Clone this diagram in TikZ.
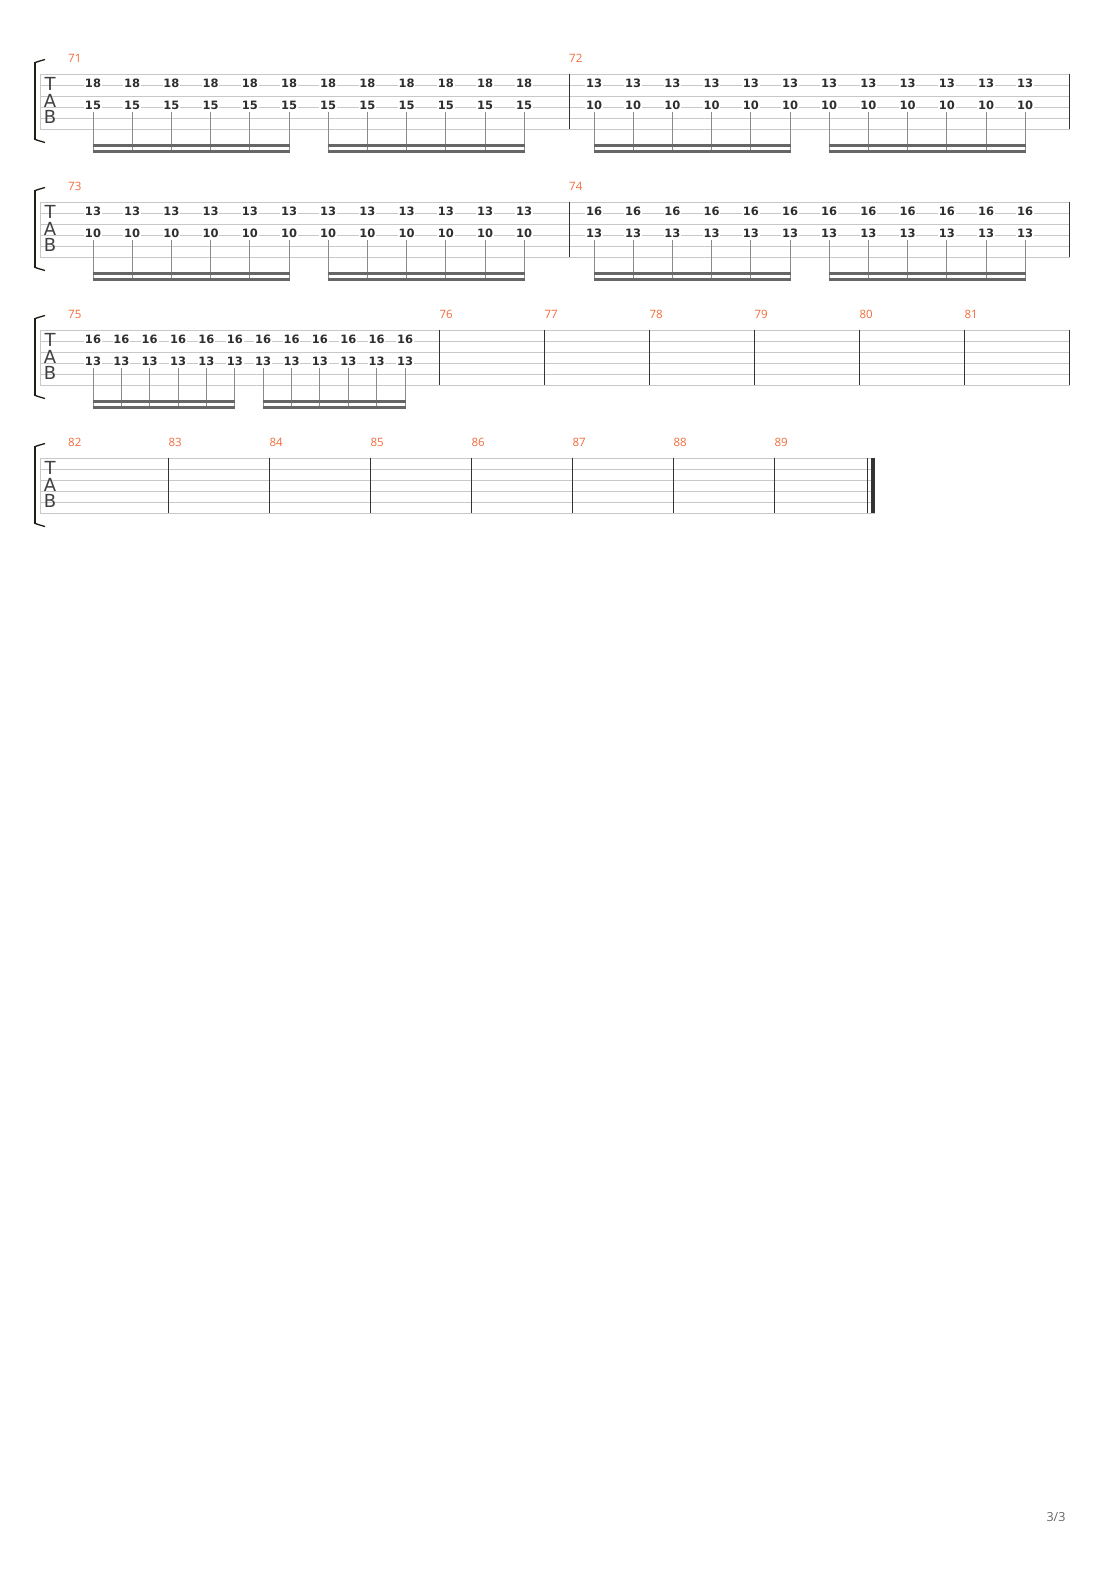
\documentclass[tikz,border=0pt]{standalone}
\usepackage{fontspec}
\setmainfont{Open Sans}
\newfontfamily\fretfont{DejaVu Sans}
\newfontfamily\letterfont{DejaVu Sans}
\definecolor{mnumc}{HTML}{F26B3A}
\definecolor{staffc}{HTML}{C8C8C8}
\definecolor{barc}{HTML}{333333}
\definecolor{fretc}{HTML}{2E2E2E}
\definecolor{stemc}{HTML}{8A8A8A}
\definecolor{beamc}{HTML}{666666}
\definecolor{brackc}{HTML}{1E1E14}
\tikzset{
  staffline/.style={draw=staffc, line width=0.9pt},
  barline/.style={draw=barc, line width=1.2pt},
  stemline/.style={draw=stemc, line width=1pt},
  beamline/.style={draw=beamc, line width=2.4pt, line cap=butt},
  fret/.style={fill=white, text=fretc, inner xsep=0.8pt, inner ysep=0pt, font=\fretfont\bfseries\fontsize{11.5}{11.5}\selectfont},
  mnum/.style={anchor=west, text=mnumc, inner sep=0pt, font=\fontsize{11.5}{11.5}\selectfont},
  tabletter/.style={text=black!75, inner sep=0pt, font=\letterfont\fontsize{18}{18}\selectfont},
}
% #1 y offset, #2 right end of staff, #3 name
\newcommand\tabsystem[3]{%
  \foreach \i in {0,...,5} {\draw[staffline] (40,#1+74.3+11*\i) -- (#2,#1+74.3+11*\i);}
  \draw[staffline] (40.3,#1+74.3) -- (40.3,#1+129.3);
  \draw[draw=brackc, line width=2.8pt] (35,#1+62) -- (35,#1+140);
  \draw[draw=brackc, line width=1.3pt] (34.5,#1+62.8) .. controls (38,#1+61.5) .. (45,#1+59.5);
  \draw[draw=brackc, line width=1.3pt] (34.5,#1+139.2) .. controls (38,#1+140.5) .. (45,#1+142.5);
  \node[tabletter] (T#3) at (50,#1+84) {T};
  \node[tabletter] (A#3) at (50,#1+100.5) {A};
  \node[tabletter] (B#3) at (50,#1+117) {B};
}
% #1 y offset, #2 first x, #3 spacing, #4 upper fret, #5 lower fret, #6 name
\newcommand\notegroup[6]{%
  \foreach \k in {0,...,5} {
    \pgfmathsetmacro\xx{#2+#3*\k}
    \draw[stemline] (\xx,#1+112) -- (\xx,#1+152.7);
    \node[fret] (u#6\k) at (\xx,#1+83.4) {#4};
    \node[fret] (l#6\k) at (\xx,#1+105.4) {#5};
  }
  \pgfmathsetmacro\xe{#2+#3*5}
  \draw[beamline] (#2-0.5,#1+145.5) -- (\xe+0.5,#1+145.5);
  \draw[beamline] (#2-0.5,#1+151.5) -- (\xe+0.5,#1+151.5);
}
\begin{document}
\begin{tikzpicture}[x=1pt,y=-1pt]
\useasboundingbox[fill=white] (0,0) rectangle (1110,1570);

% ---------- system 1 ----------
\tabsystem{0}{1070}{a}
\draw[barline] (569.3,74.3) -- (569.3,129.3);
\draw[barline] (1069.5,74.3) -- (1069.5,129.3);
\node[mnum] (m71) at (68,58) {71};
\node[mnum] (m72) at (569,58) {72};
\notegroup{0}{93}{39.2}{18}{15}{a}
\notegroup{0}{328.2}{39.2}{18}{15}{b}
\notegroup{0}{594}{39.2}{13}{10}{c}
\notegroup{0}{829.2}{39.2}{13}{10}{d}

% ---------- system 2 ----------
\tabsystem{128}{1070}{b}
\draw[barline] (569.3,202.3) -- (569.3,257.3);
\draw[barline] (1069.5,202.3) -- (1069.5,257.3);
\node[mnum] (m73) at (68,186) {73};
\node[mnum] (m74) at (569,186) {74};
\notegroup{128}{93}{39.2}{13}{10}{e}
\notegroup{128}{328.2}{39.2}{13}{10}{f}
\notegroup{128}{594}{39.2}{16}{13}{g}
\notegroup{128}{829.2}{39.2}{16}{13}{h}

% ---------- system 3 ----------
\tabsystem{256}{1070}{c}
\foreach \bx/\mn in {439.3/76,544.3/77,649.3/78,754.3/79,859.3/80,964.3/81} {
  \draw[barline] (\bx,330.3) -- (\bx,385.3);
  \node[mnum] (m\mn) at (\bx,314) {\mn};
}
\draw[barline] (1069.5,330.3) -- (1069.5,385.3);
\node[mnum] (m75) at (68,314) {75};
\notegroup{256}{93}{28.36}{16}{13}{i}
\notegroup{256}{263.2}{28.36}{16}{13}{j}

% ---------- system 4 ----------
\tabsystem{384}{875}{d}
\node[mnum] (m82) at (68,442) {82};
\foreach \bx/\mn in {168.3/83,269.3/84,370.3/85,471.3/86,572.3/87,673.3/88,774.3/89} {
  \draw[barline] (\bx,458.3) -- (\bx,513.3);
  \node[mnum] (m\mn) at (\bx,442) {\mn};
}
\draw[barline, line width=1pt] (867.3,458.3) -- (867.3,513.3);
\fill[barc] (871,458.3) rectangle (875,513.3);

% ---------- page number ----------
\node[text=black!60, inner sep=0pt, font=\fontsize{12.5}{12.5}\selectfont] (pg) at (1056,1517) {3/3};
\end{tikzpicture}
\end{document}
